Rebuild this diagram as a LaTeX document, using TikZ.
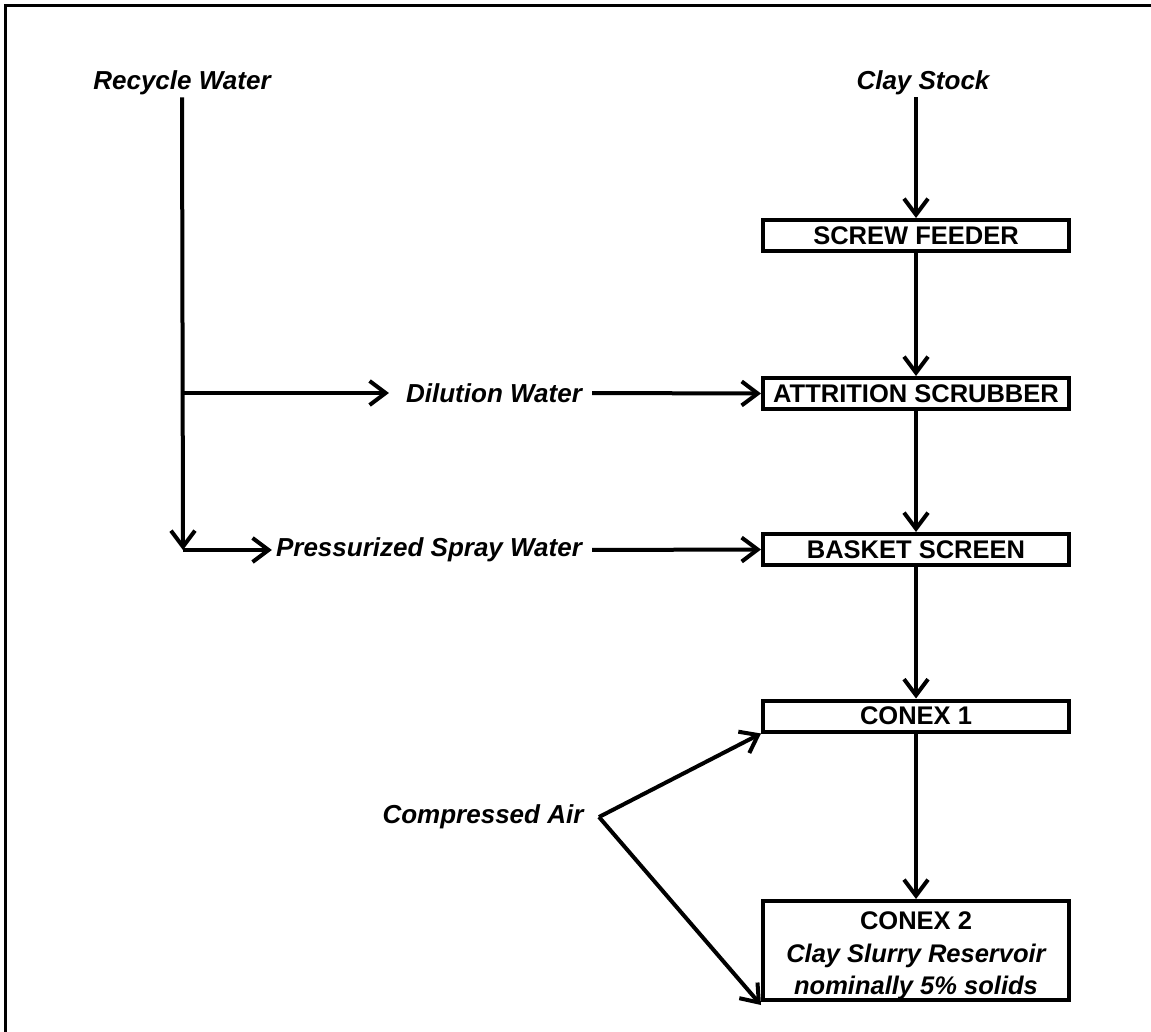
\documentclass[tikz,border=0pt]{standalone}
\usepackage{fontspec}
\setmainfont{Liberation Sans}
\usetikzlibrary{arrows.meta}
\tikzset{
  flow/.style={line width=4pt, -{Straight Barb[length=16pt,width=24pt,line width=4pt]}},
  unit/.style={draw, line width=4pt, minimum width=306pt, minimum height=31pt, inner sep=0pt,
    font=\fontsize{25.5}{34}\selectfont\bfseries, align=center},
  stream/.style={inner sep=2pt, font=\fontsize{26}{34}\selectfont\bfseries\itshape}
}

\begin{document}
\begin{tikzpicture}[x=1pt, y=-1pt]
	%%%%% START %%%%%
	\useasboundingbox (0,0) rectangle (1151,1032);
	\draw[line width=3pt] (5.5,1040) -- (5.5,5.5) -- (1160,5.5);

	\node[stream] (recycle) at (182,83) {Recycle Water};
	\node[stream] (claystock) at (923,83) {Clay Stock};

	\node[unit] (feeder) at (916,235.5) {SCREW FEEDER};
	\node[unit] (scrubber) at (916,393.5) {ATTRITION SCRUBBER};
	\node[unit] (basket) at (916,549.5) {BASKET SCREEN};
	\node[unit] (conex1) at (916,716) {CONEX 1};
	\node[unit, minimum height=99pt] (conex2) at (916,950.5) {\rule{0pt}{22pt}CONEX 2\\[-1pt]
		\itshape Clay Slurry Reservoir\\[-2pt] \itshape\smash{nominally 5\% solids}};

	\node[stream] (dilution) at (494,393) {Dilution Water};
	\node[stream] (spray) at (429,550) {Pressurized Spray Water};
	\node[stream] (air) at (483,817) {Compressed Air};

	\coordinate (split1) at (183,393);
	\coordinate (split2) at (183,550);
	\coordinate (airpt) at (599,817);

	% water side
	\draw[flow] (recycle.south) -- (split2);
	\draw[flow, shorten >=15pt] (split1) -- (dilution.west);
	\draw[flow, shorten >=2pt] (split2) -- (spray.west);
	\draw[flow, shorten <=8pt] (dilution.east) -- (scrubber.west);
	\draw[flow, shorten <=8pt] (spray.east) -- (basket.west);

	% clay side
	\draw[flow] (claystock.south -| feeder.north) -- (feeder.north);
	\draw[flow] (feeder) -- (scrubber);
	\draw[flow] (scrubber) -- (basket);
	\draw[flow] (basket) -- (conex1);
	\draw[flow] (conex1) -- (conex2);

	% air
	\draw[flow] (airpt) -- (conex1.south west);
	\draw[flow] (airpt) -- ([yshift=-3pt]conex2.south west);
	%%%%% END %%%%%
\end{tikzpicture}
\end{document}
